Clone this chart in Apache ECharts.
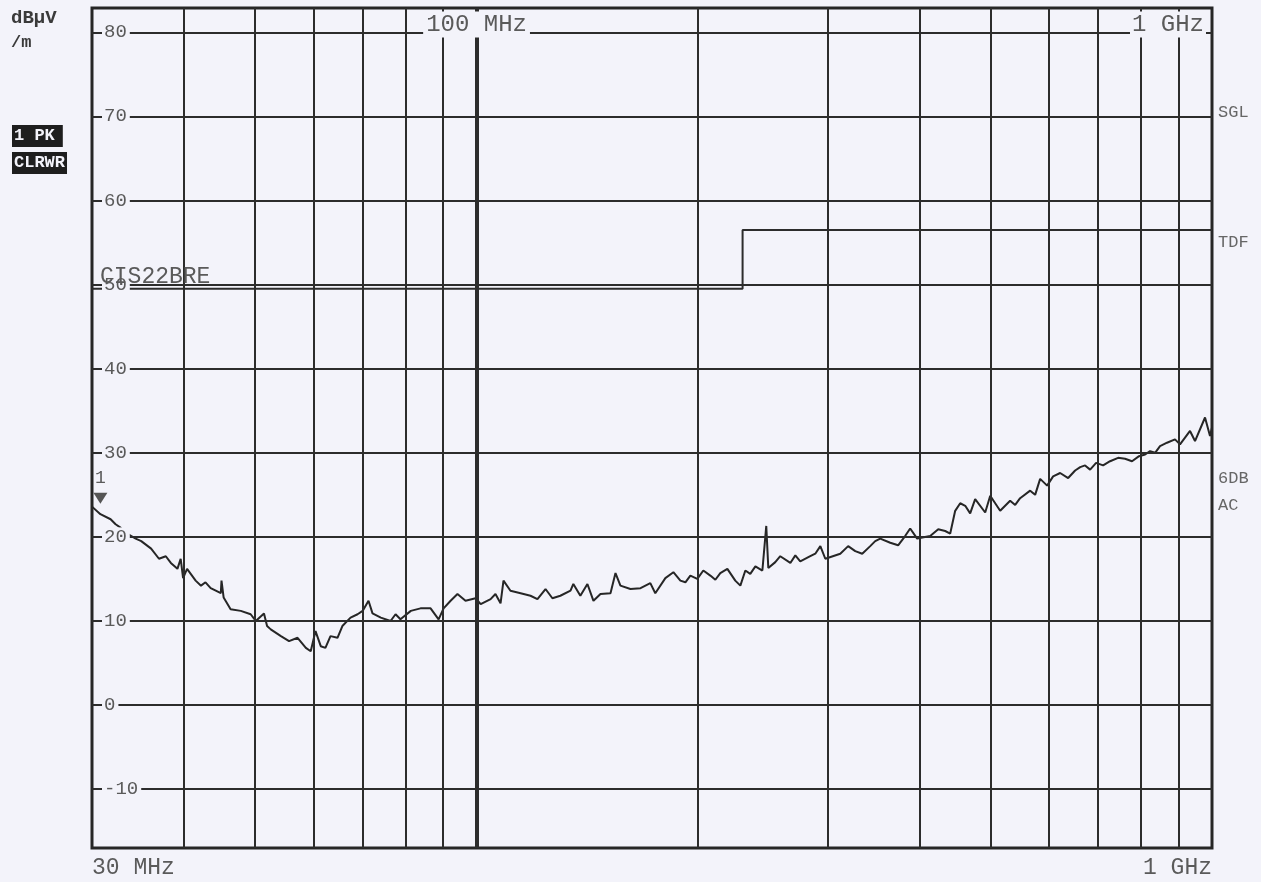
<!DOCTYPE html>
<html>
<head>
<meta charset="utf-8">
<script src="https://cdn.jsdelivr.net/npm/echarts@6/dist/echarts.min.js"></script>
<style>
  html, body { margin: 0; padding: 0; background: #f3f3fa; }
  #chart { width: 1261px; height: 882px; }
</style>
</head>
<body>
<div id="chart"></div>
<script>
// peak trace (MHz, dBµV/m)
const traceFreq = [
  30.0, 30.8, 31.8, 32.3, 32.8, 33.3, 34.4, 35.0, 36.1, 37.0, 37.8, 38.4, 39.2, 39.6, 39.9,
  40.4, 41.5, 42.2, 42.8, 43.5, 44.2, 44.9, 45.0, 45.3, 46.3, 47.8, 49.3, 50.1, 51.4, 51.9,
  52.5, 54.2, 55.6, 57.1, 58.6, 59.5, 60.4, 61.4, 62.3, 63.3, 64.7, 65.7, 67.4, 68.9, 70.0,
  71.3, 72.2, 74.1, 76.4, 77.6, 78.8, 81.4, 83.9, 86.6, 88.8, 90.2, 92.2, 94.2, 96.6, 99.7,
  101.3, 104.5, 106.1, 107.8, 108.8, 111.2, 114.8, 118.4, 121.0, 124.1, 126.8, 130.0, 134.2, 135.4, 138.4,
  141.5, 144.2, 147.4, 152.1, 154.5, 156.9, 161.9, 167.1, 172.3, 175.0, 180.6, 185.2, 189.3, 192.3, 195.3,
  199.6, 203.4, 207.9, 211.2, 214.5, 219.3, 224.8, 228.4, 232.0, 235.6, 239.4, 244.7, 247.7, 249.3, 254.8,
  258.8, 267.1, 271.3, 275.5, 284.3, 288.8, 293.4, 298.0, 312.3, 320.1, 327.3, 334.5, 343.0, 348.4, 353.9,
  365.2, 374.3, 382.6, 388.7, 397.3, 413.8, 424.4, 433.7, 440.6, 447.5, 454.6, 461.8, 469.0, 476.4, 491.6,
  499.4, 515.2, 531.5, 540.0, 548.4, 565.9, 574.8, 583.9, 596.8, 608.1, 621.6, 637.4, 651.5, 661.9, 672.1,
  682.8, 695.7, 711.1, 726.8, 745.3, 761.7, 778.5, 795.8, 811.0, 823.7, 836.8, 849.8, 868.6, 890.6, 904.7,
  919.0, 933.5, 948.2, 978.4, 993.8, 1000
];
const traceLevel = [
  23.6, 22.7, 22.1, 21.5, 21.1, 20.5, 19.8, 19.5, 18.6, 17.4, 17.7, 16.9, 16.2, 17.4, 15.1,
  16.2, 14.8, 14.2, 14.6, 13.9, 13.6, 13.3, 14.8, 12.8, 11.4, 11.2, 10.8, 10.0, 10.9, 9.4,
  9.0, 8.2, 7.6, 8.0, 6.8, 6.4, 8.8, 7.0, 6.8, 8.2, 8.0, 9.4, 10.4, 10.8, 11.2,
  12.4, 10.9, 10.4, 10.0, 10.8, 10.2, 11.2, 11.5, 11.5, 10.2, 11.5, 12.4, 13.2, 12.4, 12.7,
  12.0, 12.6, 13.2, 12.1, 14.8, 13.6, 13.3, 13.0, 12.6, 13.8, 12.7, 13.0, 13.6, 14.4, 13.0,
  14.4, 12.4, 13.2, 13.3, 15.7, 14.2, 13.8, 13.9, 14.5, 13.3, 15.1, 15.8, 14.8, 14.6, 15.4,
  15.0, 16.0, 15.4, 14.9, 15.7, 16.2, 14.8, 14.2, 16.0, 15.6, 16.5, 16.0, 21.3, 16.3, 17.0,
  17.7, 16.9, 17.8, 17.1, 17.7, 18.0, 18.9, 17.4, 18.0, 18.9, 18.3, 18.0, 18.9, 19.5, 19.8,
  19.3, 19.0, 20.1, 21.0, 19.8, 20.1, 20.9, 20.7, 20.4, 23.1, 24.0, 23.7, 22.8, 24.5, 22.9,
  24.9, 23.1, 24.3, 23.8, 24.6, 25.5, 25.0, 26.9, 26.1, 27.2, 27.6, 27.0, 27.9, 28.3, 28.5,
  28.0, 28.8, 28.5, 29.0, 29.4, 29.3, 29.0, 29.6, 29.8, 30.2, 30.0, 30.8, 31.2, 31.6, 31.0,
  31.8, 32.6, 31.4, 34.2, 32.0, 33.0
];

// CISPR 22 class B limit line
const limitFreq = [30, 230, 230, 1000];
const limitLevel = [49.5, 49.5, 56.5, 56.5];

const levelTicks = [-10, 0, 10, 20, 30, 40, 50, 60, 70, 80];
const freqGrid = [40, 50, 60, 70, 80, 90, 200, 300, 400, 500, 600, 700, 800, 900];
const decadeGrid = [100];

const BG = '#f3f3fa';
const INK = '#2c2c2c';
const TXT = '#5a5a5a';
const MONO = '"Liberation Mono", "DejaVu Sans Mono", monospace';

const chart = echarts.init(document.getElementById('chart'), null, { renderer: 'canvas' });

const hLines = levelTicks.map((v) => ({
  yAxis: v,
  label: {
    show: true,
    formatter: String(v),
    position: 'insideStart',
    distance: 10,
    color: TXT,
    fontFamily: MONO,
    fontSize: 19,
    backgroundColor: BG,
    padding: [0, 3, 0, 2]
  }
}));
const vLines = freqGrid.map((f) => ({ xAxis: f, label: { show: false } }))
  .concat(decadeGrid.map((f) => ({ xAxis: f, label: { show: false }, lineStyle: { width: 4 } })));

chart.setOption({
  backgroundColor: BG,
  animation: false,
  grid: {
    left: 92, right: 49, top: 8, bottom: 34,
    show: true, borderColor: '#262626', borderWidth: 3, backgroundColor: 'transparent'
  },
  xAxis: {
    type: 'log', logBase: 10, min: 30, max: 1000,
    axisLine: { show: false }, axisTick: { show: false },
    axisLabel: { show: false }, splitLine: { show: false }
  },
  yAxis: {
    type: 'value', min: -17, max: 82.9,
    axisLine: { show: false }, axisTick: { show: false },
    axisLabel: { show: false }, splitLine: { show: false }
  },
  series: [
    {
      name: 'grid',
      type: 'line',
      data: [],
      silent: true,
      z: 1,
      markLine: {
        silent: true,
        symbol: ['none', 'none'],
        animation: false,
        lineStyle: { color: INK, width: 2, type: 'solid' },
        data: vLines.concat(hLines)
      }
    },
    {
      name: 'CIS22BRE',
      type: 'line',
      data: limitFreq.map((f, i) => [f, limitLevel[i]]),
      showSymbol: false,
      silent: true,
      z: 3,
      lineStyle: { color: INK, width: 2 }
    },
    {
      name: '1 PK',
      type: 'line',
      data: traceFreq.map((f, i) => [f, traceLevel[i]]),
      showSymbol: false,
      silent: true,
      z: 4,
      lineStyle: { color: '#262626', width: 2 },
      markPoint: {
        silent: true,
        animation: false,
        symbol: 'triangle',
        symbolRotate: 180,
        symbolSize: [14, 11],
        itemStyle: { color: '#555' },
        label: { show: true, position: 'top', distance: 5, formatter: '1', color: TXT, fontFamily: MONO, fontSize: 18 },
        data: [{ coord: [30.8, 24.6] }]
      }
    }
  ]
});

// printout annotations, placed through the chart's own scales
function at(f, v) { return chart.convertToPixel({ gridIndex: 0 }, [f, v]); }
function txt(text, x, y, opts) {
  return {
    type: 'text', x: x, y: y, z: 100, silent: true,
    style: Object.assign({ text: text, fill: TXT, font: '18px ' + MONO, align: 'left', verticalAlign: 'middle' }, opts || {})
  };
}
const top100 = at(100, 80);
const top1g = at(1000, 80);
const bot30 = at(30, -17);
const bot1g = at(1000, -17);
const lim = at(30, 49.5);

chart.setOption({
  graphic: [
    txt('100 MHz', top100[0], top100[1] - 8, { align: 'center', font: '24px ' + MONO, backgroundColor: BG, padding: [1, 3] }),
    txt('1 GHz', top1g[0] - 6, top1g[1] - 8, { align: 'right', font: '24px ' + MONO, backgroundColor: BG, padding: [1, 2] }),
    txt('30 MHz', bot30[0], bot30[1] + 20, { font: '23px ' + MONO }),
    txt('1 GHz', bot1g[0], bot1g[1] + 20, { align: 'right', font: '23px ' + MONO }),
    txt('CIS22BRE', lim[0] + 8, lim[1] - 12, { font: '23px ' + MONO }),
    txt('dBµV', 11, 18, { font: 'bold 19px ' + MONO, fill: '#3a3a3a' }),
    txt('/m', 11, 43, { font: 'bold 17px ' + MONO, fill: '#3a3a3a' }),
    txt('1 PK', 12, 136, { font: 'bold 17px ' + MONO, fill: '#f3f3fa', backgroundColor: '#1e1e1e', padding: [3, 8, 2, 2] }),
    txt('CLRWR', 12, 163, { font: 'bold 17px ' + MONO, fill: '#f3f3fa', backgroundColor: '#1e1e1e', padding: [3, 2, 2, 2] }),
    txt('SGL', 1218, 112, { font: '17px ' + MONO, fill: '#666' }),
    txt('TDF', 1218, 242, { font: '17px ' + MONO, fill: '#666' }),
    txt('6DB', 1218, 478, { font: '17px ' + MONO, fill: '#666' }),
    txt('AC', 1218, 505, { font: '17px ' + MONO, fill: '#666' })
  ]
});

window.addEventListener('resize', () => chart.resize());
</script>
</body>
</html>
